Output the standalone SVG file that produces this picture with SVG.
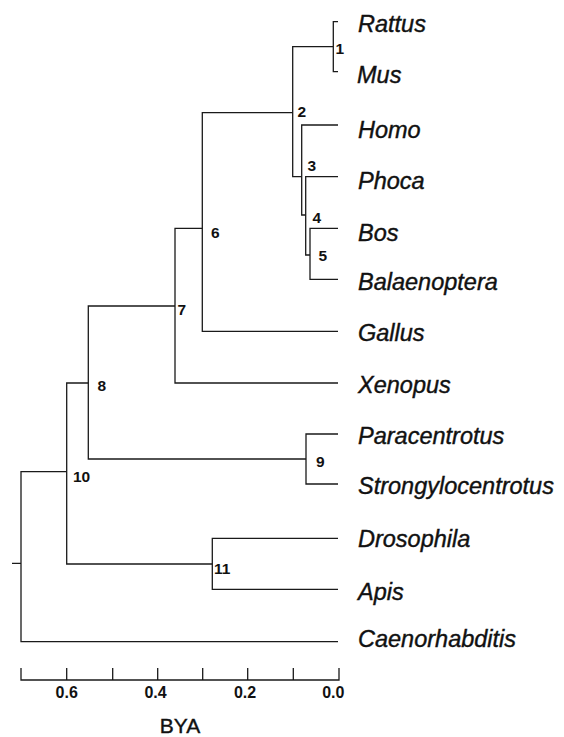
<svg xmlns="http://www.w3.org/2000/svg" width="564" height="737" viewBox="0 0 564 737">
<style>
.br{fill:none;stroke:#1a1a1a;stroke-width:1.3}
.leaf{font-family:"Liberation Sans",Arial,sans-serif;font-style:italic;font-size:23.5px;fill:#111;stroke:#111;stroke-width:0.4}
.num{font-family:"Liberation Sans",Arial,sans-serif;font-weight:bold;font-size:15.5px;fill:#111}
.tick{font-family:"Liberation Sans",Arial,sans-serif;font-weight:bold;font-size:16px;fill:#111;text-anchor:middle}
.axt{font-family:"Liberation Sans",Arial,sans-serif;font-size:21px;fill:#111;text-anchor:middle;stroke:#111;stroke-width:0.4}
</style>
<rect width="564" height="737" fill="#fff"/>
<g id="connectors" class="br">
<path d="M333.3 46.7V21.7H338M333.3 46.7V71.7H338"/>
<path d="M292.7 112.7V46.7H333.3M292.7 112.7V176.7H301.7"/>
<path d="M301.7 176.7V125H338M301.7 176.7V215H305.7"/>
<path d="M305.7 215V176.7H338M305.7 215V255H310"/>
<path d="M310 255V228.3H338M310 255V279.3H338"/>
<path d="M202.3 228.3V112.7H292.7M202.3 228.3V331.3H338"/>
<path d="M175 306V228.3H202.3M175 306V383H338"/>
<path d="M88.3 383V306H175M88.3 383V459H306"/>
<path d="M306 459V434H338M306 459V484H338"/>
<path d="M66.7 471.7V383H88.3M66.7 471.7V564H212.3"/>
<path d="M212.3 564V538.3H338M212.3 564V589.3H338"/>
<path d="M21 563.3V471.7H66.7M21 563.3V641.7H338M12 563.3H21"/>
</g>
<g id="node-1"><text class="num" x="335.5" y="53.5">1</text></g>
<g id="node-2"><text class="num" x="297.5" y="117">2</text></g>
<g id="node-3"><text class="num" x="307.5" y="170.5">3</text></g>
<g id="node-4"><text class="num" x="312.5" y="223">4</text></g>
<g id="node-5"><text class="num" x="318.5" y="261">5</text></g>
<g id="node-6"><text class="num" x="211" y="238">6</text></g>
<g id="node-7"><text class="num" x="177.5" y="314.5">7</text></g>
<g id="node-8"><text class="num" x="97.5" y="390.5">8</text></g>
<g id="node-9"><text class="num" x="316" y="466.5">9</text></g>
<g id="node-10"><text class="num" x="73" y="481.5">10</text></g>
<g id="node-11"><text class="num" x="214" y="573.5">11</text></g>
<g id="leaf-rattus"><text class="leaf" x="358" y="32">Rattus</text></g>
<g id="leaf-mus"><text class="leaf" x="357" y="83.3">Mus</text></g>
<g id="leaf-homo"><text class="leaf" x="358" y="138">Homo</text></g>
<g id="leaf-phoca"><text class="leaf" x="358" y="188.5">Phoca</text></g>
<g id="leaf-bos"><text class="leaf" x="358" y="240.5">Bos</text></g>
<g id="leaf-balaenoptera"><text class="leaf" x="358" y="290">Balaenoptera</text></g>
<g id="leaf-gallus"><text class="leaf" x="358" y="340.5">Gallus</text></g>
<g id="leaf-xenopus"><text class="leaf" x="358" y="393">Xenopus</text></g>
<g id="leaf-paracentrotus"><text class="leaf" x="358" y="443.5">Paracentrotus</text></g>
<g id="leaf-strongylocentrotus"><text class="leaf" x="358" y="494">Strongylocentrotus</text></g>
<g id="leaf-drosophila"><text class="leaf" x="358" y="546.5">Drosophila</text></g>
<g id="leaf-apis"><text class="leaf" x="358" y="600">Apis</text></g>
<g id="leaf-caenorhabditis"><text class="leaf" x="358" y="647">Caenorhabditis</text></g>
<g id="axis">
<path class="br" d="M21 668V680H339V668M66.7 668V680M112.7 668V680M157.7 668V680M202.7 668V680M247.7 668V680M293.3 668V680"/>
<text class="tick" x="66.7" y="698">0.6</text>
<text class="tick" x="155.5" y="698">0.4</text>
<text class="tick" x="245" y="698">0.2</text>
<text class="tick" x="333.3" y="698">0.0</text>
<text class="axt" x="180" y="733">BYA</text>
</g>
</svg>
